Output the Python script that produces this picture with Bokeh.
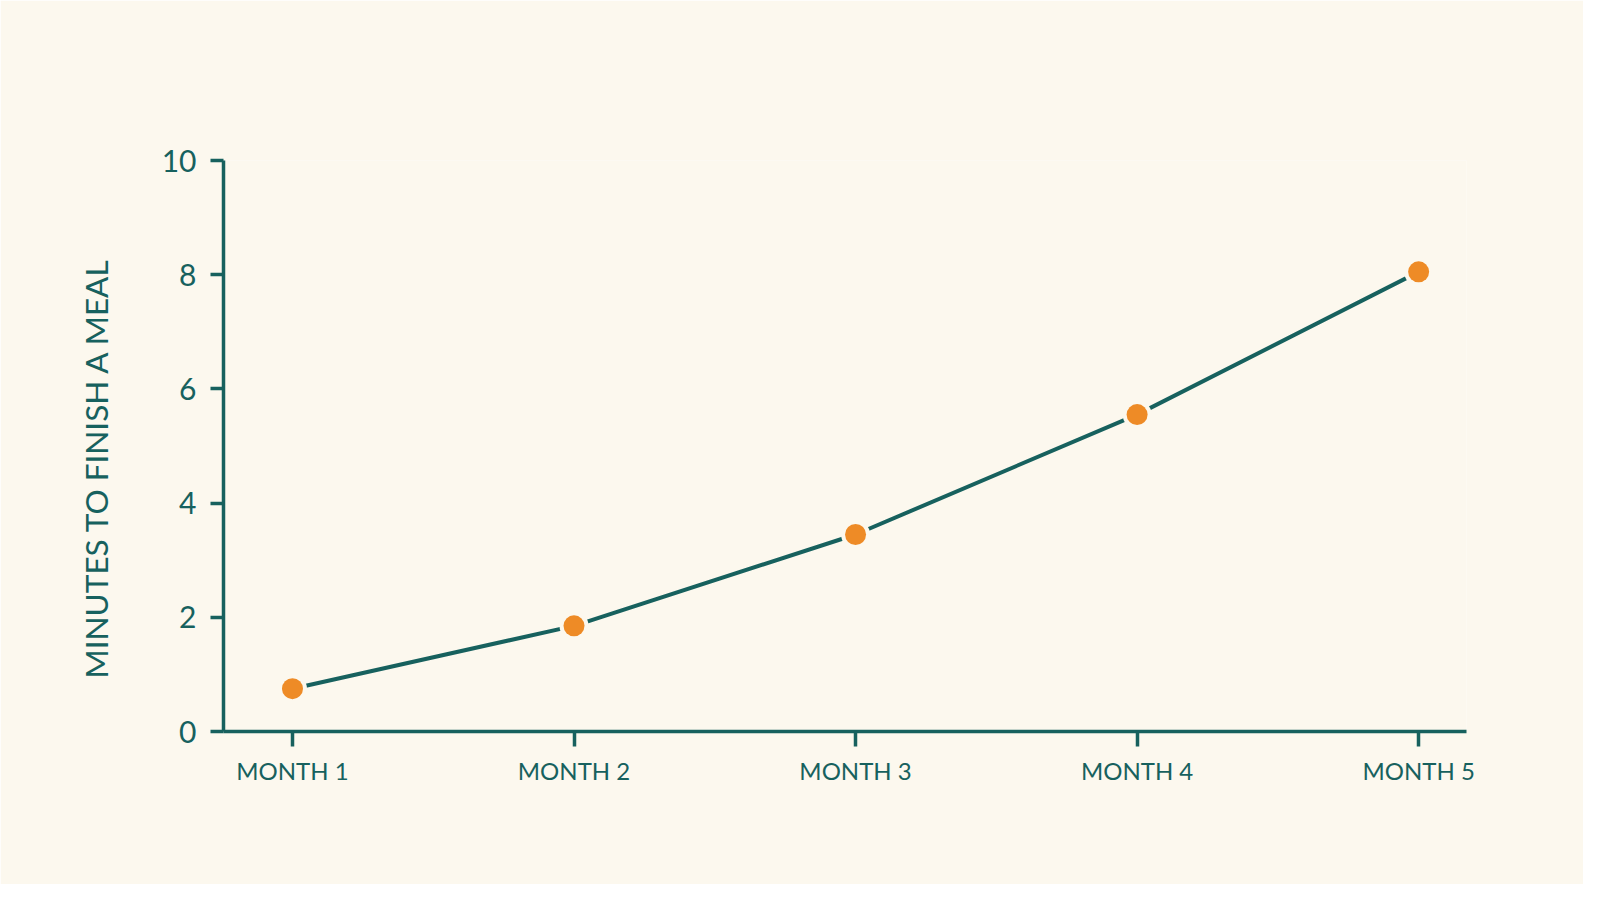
from bokeh.plotting import figure
from bokeh.models import FixedTicker, Range1d, Title
from bokeh.embed import file_html
from bokeh.resources import INLINE

months = ["MONTH 1", "MONTH 2", "MONTH 3", "MONTH 4", "MONTH 5"]
minutes = [0.75, 1.85, 3.45, 5.55, 8.05]
y_ticks = [0, 2, 4, 6, 8, 10]
y_title = "MINUTES TO FINISH A MEAL"

BG = "#fcf8ee"
TEAL = "#17615e"
ORANGE = "#ee8b26"
FONT = "Lato"

xs = list(range(len(months)))

p = figure(width=1583, height=884, output_backend="svg", toolbar_location=None,
           x_range=Range1d(-0.245, 4.17), y_range=Range1d(0, 10),
           min_border_left=223, min_border_top=160, min_border_bottom=153,
           min_border_right=117)
p.background_fill_color = BG
p.border_fill_color = BG
p.outline_line_color = None
p.grid.visible = False

p.line(xs, minutes, line_color=TEAL, line_width=4)
p.scatter(xs, minutes, size=29, fill_color=BG, line_color=None)
p.scatter(xs, minutes, size=21, fill_color=ORANGE, line_color=None)

for ax in (p.xaxis[0], p.yaxis[0]):
    ax.axis_line_color = TEAL
    ax.axis_line_width = 3.5
    ax.major_tick_line_color = TEAL
    ax.major_tick_line_width = 3.5
    ax.major_tick_in = 0
    ax.minor_tick_line_color = None
    ax.major_label_text_color = TEAL
    ax.major_label_text_font = FONT

p.xaxis.ticker = FixedTicker(ticks=xs)
p.xaxis.major_label_overrides = {i: m for i, m in zip(xs, months)}
p.xaxis.major_tick_out = 15
p.xaxis.major_label_standoff = 9
p.xaxis.major_label_text_font_size = "24px"

p.yaxis.ticker = FixedTicker(ticks=y_ticks)
p.yaxis.major_tick_out = 13
p.yaxis.major_label_standoff = 14
p.yaxis.major_label_text_font_size = "30px"

p.add_layout(Title(text=y_title, align="left", offset=53, standoff=88,
                   text_color=TEAL, text_font=FONT, text_font_size="31.5px",
                   text_font_style="normal"), "left")

open("out.html", "w").write(file_html(p, INLINE))
